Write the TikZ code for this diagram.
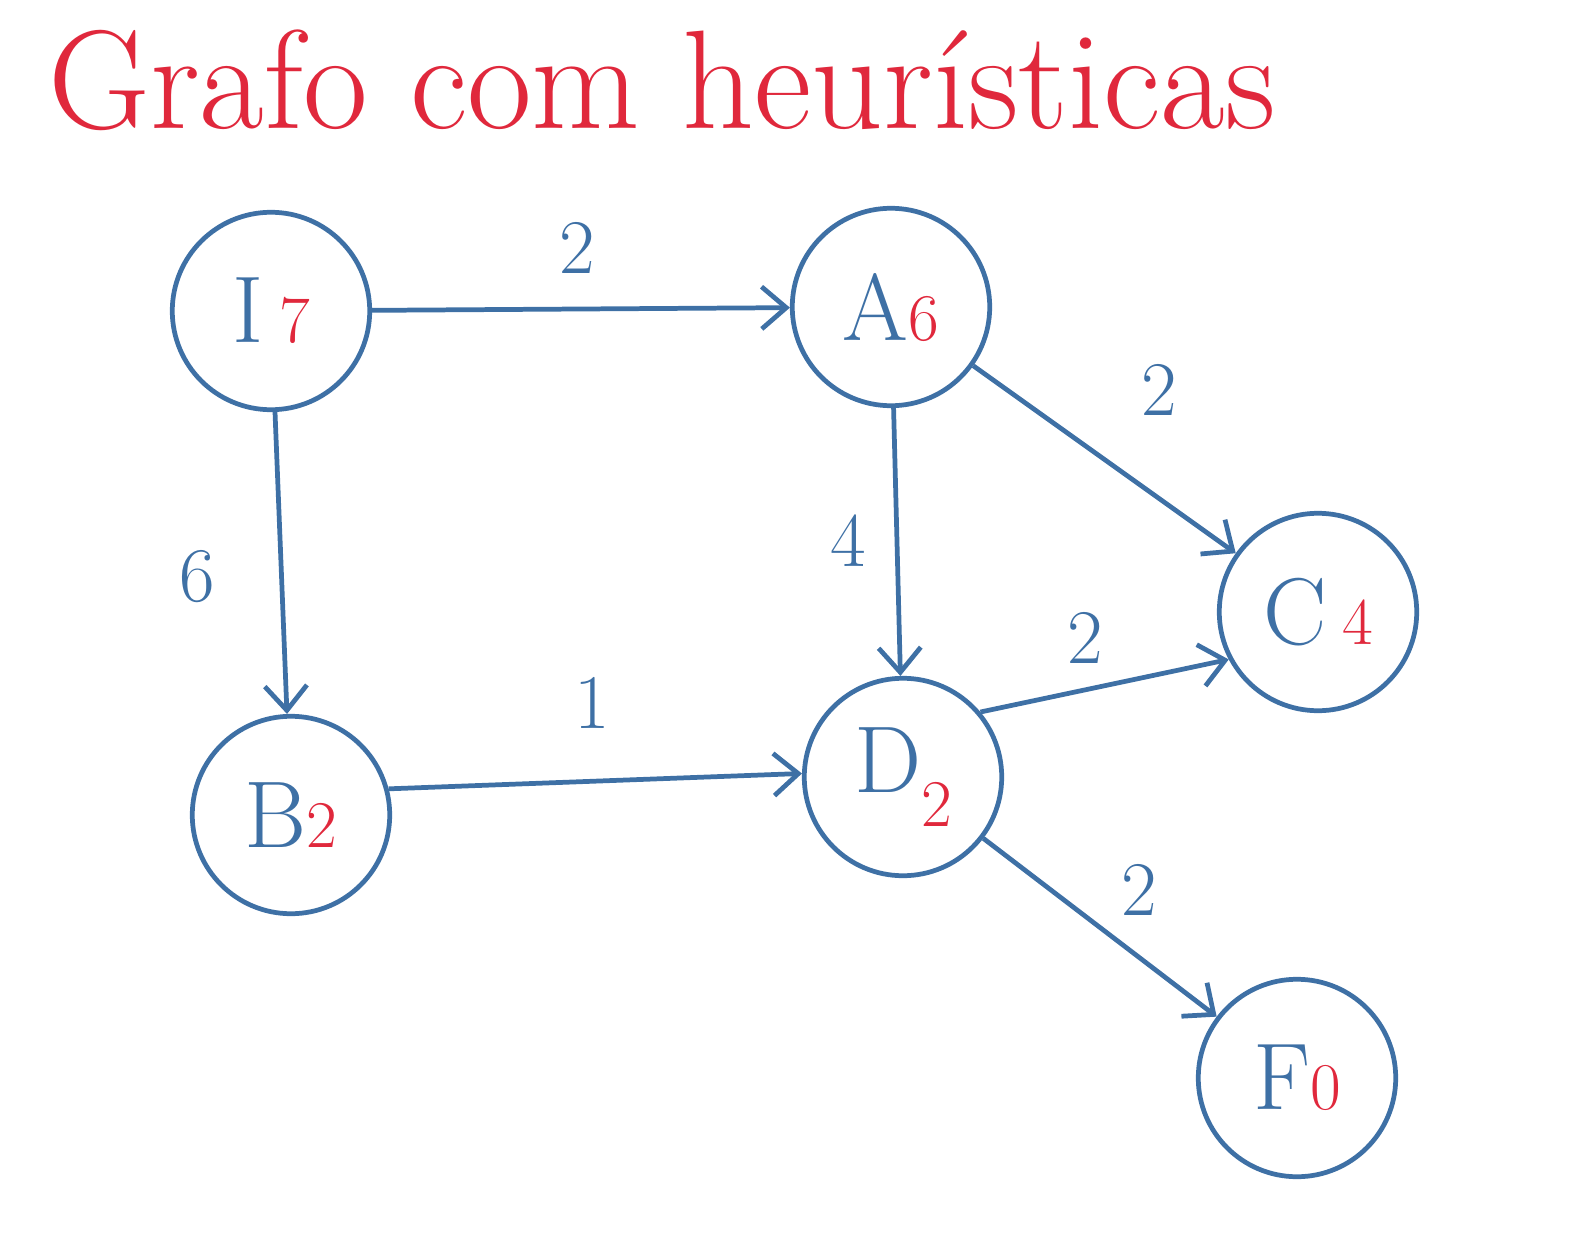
\documentclass[tikz,border=0pt]{standalone}
\usetikzlibrary{arrows.meta}
\definecolor{inkblue}{RGB}{62,112,165}
\definecolor{inkred}{RGB}{224,40,60}
\tikzset{
  state/.style={circle,draw=inkblue,line width=2.7pt,minimum size=3.95cm,text=inkblue,font=\fontsize{54}{60}\selectfont},
  edge/.style={draw=inkblue,line width=2.7pt,-{Straight Barb[length=14pt,width=24pt,line width=2.7pt]}},
  weight/.style={text=inkblue,font=\fontsize{44}{50}\selectfont},
}
\newcommand{\heur}[1]{\textcolor{inkred}{\fontsize{38}{42}\selectfont #1}}
\begin{document}
\begin{tikzpicture}[x=0.02cm,y=-0.02cm]
    \useasboundingbox (0,0) rectangle (1587,1237);
    % title
    \node[text=inkred,font=\fontsize{80}{88}\selectfont] (title) at (662,80) {Grafo com heurísticas};
    % states
    \node[state] (I) at (271,311) {I\,\heur{7}};
    \node[state] (A) at (891,307) {A\heur{6}};
    \node[state] (C) at (1318,612) {C\,\heur{4}};
    \node[state] (B) at (291,815) {B\heur{2}};
    \node[state] (D) at (903,777) {D\raisebox{-0.35em}{\heur{2}}};
    \node[state] (F) at (1297,1078) {F\heur{0}};
    % edges
    \draw[edge] (I) -- (A);
    \draw[edge] (I) -- (B);
    \draw[edge] (A) -- (D);
    \draw[edge] (A) -- (C);
    \draw[edge] (B.15) -- (D.178);
    \draw[edge] (D.40) -- (C.208);
    \draw[edge] (D) -- (F);
    % weights
    \node[weight] (wIA) at (577,248) {2};
    \node[weight] (wIB) at (197,577) {6};
    \node[weight] (wAD) at (848,541) {4};
    \node[weight] (wAC) at (1159,390) {2};
    \node[weight] (wDC) at (1085,638) {2};
    \node[weight] (wBD) at (592,703) {1};
    \node[weight] (wDF) at (1139,890) {2};
\end{tikzpicture}
\end{document}
